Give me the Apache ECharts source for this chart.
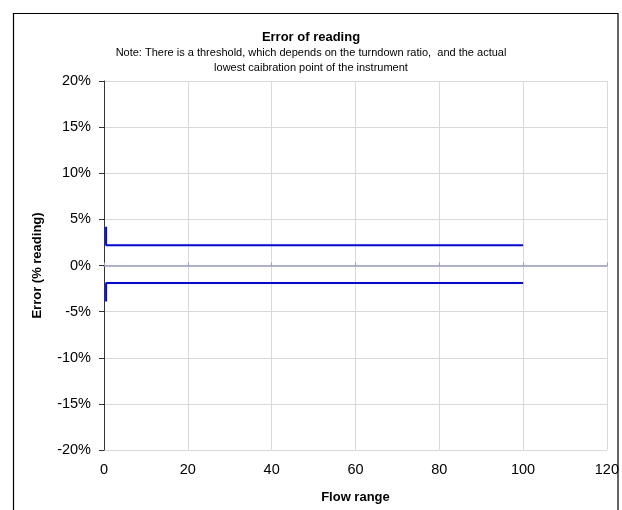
<!DOCTYPE html>
<html><head><meta charset="utf-8">
<script src="https://cdn.jsdelivr.net/npm/echarts@6/dist/echarts.min.js"></script>
<style>html,body{margin:0;padding:0;background:#fff}#c{width:622px;height:510px}</style>
</head><body><div id="c"></div>
<script>
const titleText = 'Error of reading';
const noteText = 'Note: There is a threshold, which depends on the turndown ratio,  and the actual\nlowest caibration point of the instrument';
const xName = 'Flow range';
const yName = 'Error (% reading)';
const upperX = [0.5, 0.5, 100];
const upperY = [4.2, 2.2, 2.2];
const lowerX = [0.5, 0.5, 100];
const lowerY = [-3.9, -1.9, -1.9];
const xTicks = [0, 20, 40, 60, 80, 100, 120];
const yTicks = [-20, -15, -10, -5, 0, 5, 10, 15, 20];

const font = 'Liberation Sans, Arial, sans-serif';
const chart = echarts.init(document.getElementById('c'), null, {renderer: 'canvas'});
const pair = (xs, ys) => xs.map((x, i) => [x, ys[i]]);
chart.setOption({
  animation: false,
  backgroundColor: '#fff',
  title: [
    {text: titleText, left: 'center', top: 26, textStyle: {fontFamily: font, fontSize: 13, fontWeight: 'bold', color: '#000'}}
  ],
  graphic: [
    {type: 'rect', shape: {x: 619, y: 0, width: 3, height: 510}, style: {fill: '#fff'}, z: 99},
    {type: 'rect', shape: {x: 13.5, y: 13.5, width: 604.5, height: 520}, style: {fill: 'none', stroke: '#000', lineWidth: 1.2}, z: 100},
    {type: 'text', x: 311, y: 45, style: {text: noteText, font: '11px ' + font, fill: '#000', textAlign: 'center', textVerticalAlign: 'top', lineHeight: 15}}
  ],
  grid: {left: 104, right: 15, top: 81, bottom: 60},
  xAxis: [{
    type: 'value', min: xTicks[0], max: xTicks[xTicks.length - 1], interval: 20,
    position: 'bottom',
    axisLine: {show: false, onZero: false},
    axisTick: {show: false},
    axisLabel: {fontFamily: font, fontSize: 14.5, color: '#000', margin: 12},
    splitLine: {show: true, lineStyle: {color: '#d9d9d9', width: 1}},
    name: xName, nameLocation: 'middle', nameGap: 41,
    nameTextStyle: {fontFamily: font, fontSize: 13, fontWeight: 'bold', color: '#000'}
  }, {
    type: 'value', min: 0, max: 120, interval: 20, position: 'bottom',
    axisLine: {show: true, onZero: true, lineStyle: {color: '#9a9ac8', width: 1.5}},
    axisTick: {show: true, inside: true, length: 3, lineStyle: {color: '#9a9ac8'}},
    axisLabel: {show: false}, splitLine: {show: false}
  }],
  yAxis: {
    type: 'value', min: yTicks[0], max: yTicks[yTicks.length - 1], interval: 5,
    axisLine: {show: true, lineStyle: {color: '#333', width: 1}},
    axisTick: {show: true, length: 5, lineStyle: {color: '#333'}},
    axisLabel: {formatter: '{value}%', fontFamily: font, fontSize: 14.5, color: '#000', margin: 13},
    splitLine: {show: true, lineStyle: {color: '#d9d9d9', width: 1}},
    name: yName, nameLocation: 'middle', nameGap: 60, nameRotate: 90,
    nameTextStyle: {fontFamily: font, fontSize: 13, fontWeight: 'bold', color: '#000'}
  },
  series: [
    {type: 'line', data: pair(upperX, upperY), showSymbol: false, lineStyle: {color: '#0000ff', width: 2}, z: 5},
    {type: 'line', data: pair(lowerX, lowerY), showSymbol: false, lineStyle: {color: '#0000ff', width: 2}, z: 5}
  ]
});
</script></body></html>
